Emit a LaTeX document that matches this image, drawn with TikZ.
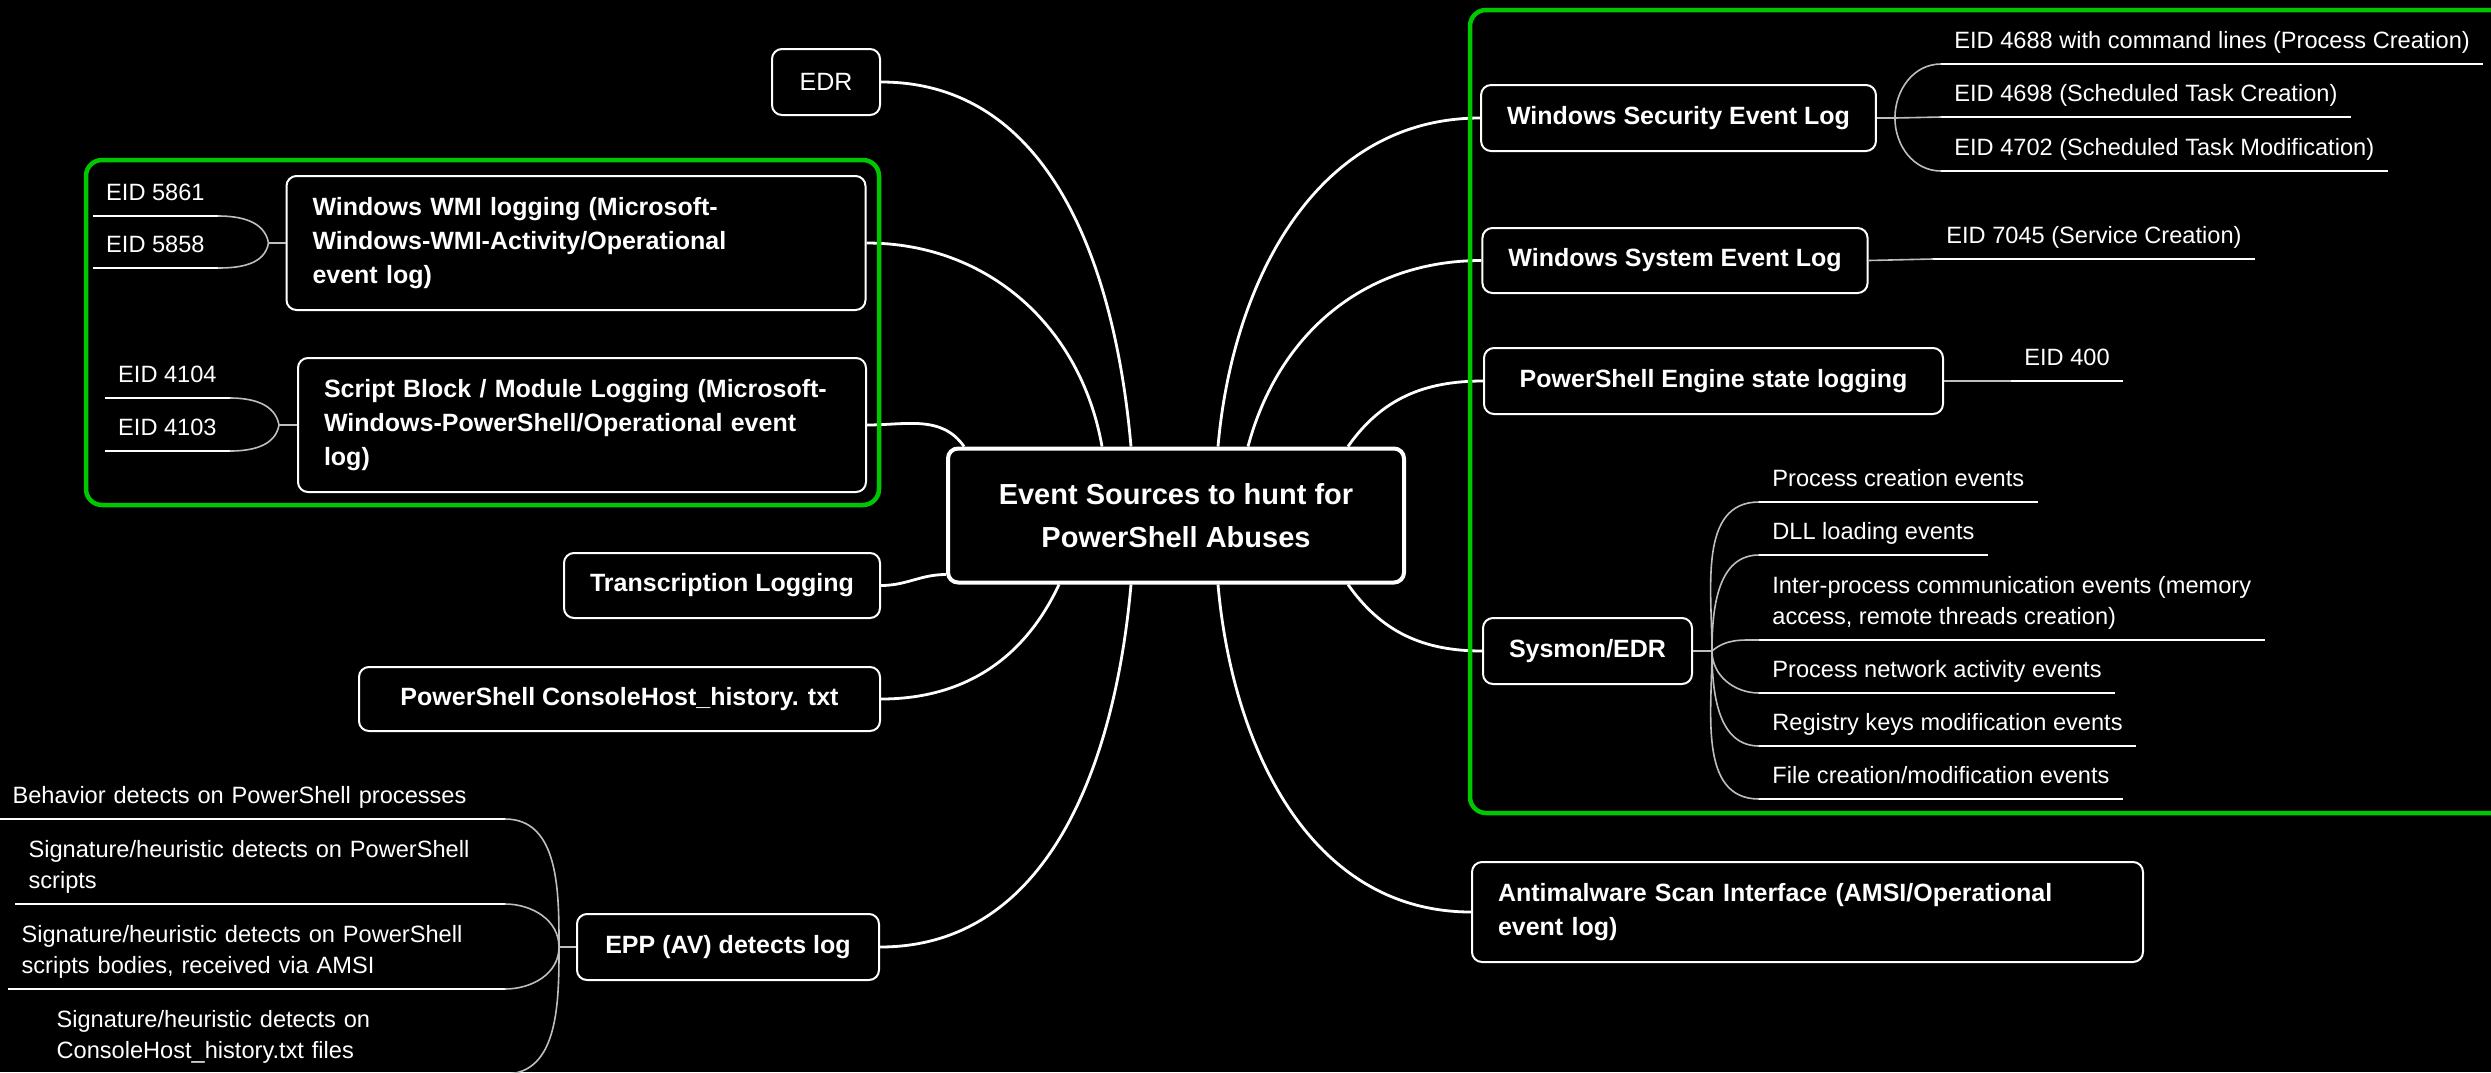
\documentclass[tikz,border=0pt]{standalone}
\usepackage{fontspec}
\setmainfont{Liberation Sans}
\usetikzlibrary{calc}
\definecolor{zonegreen}{RGB}{0,200,0}
\definecolor{stubgrey}{RGB}{190,190,190}

\tikzset{
    hub/.style={draw=white, line width=2pt, rounded corners=5pt, fill=black, text=white,
        font=\bfseries\fontsize{14.5}{21.5}\selectfont, align=center,
        minimum width=228pt, minimum height=67pt},
    src/.style={draw=white, line width=1pt, rounded corners=5pt, fill=black, text=white,
        font=\bfseries\fontsize{12.5}{17}\selectfont, inner xsep=13pt, align=left},
    leaf/.style={text=white, font=\fontsize{11.8}{15.8}\selectfont, inner xsep=6.5pt,
        inner ysep=5pt, align=left, execute at end node={\vphantom{g}}},
    spoke/.style={white, line width=1.4pt},
    twig/.style={stubgrey, line width=0.8pt},
    uline/.style={white, line width=1pt},
    zone/.style={zonegreen, line width=2.25pt, rounded corners=8pt}
}

\begin{document}
\begin{tikzpicture}[x=0.5pt, y=0.5pt]
    \useasboundingbox (0,0) rectangle (2491,-1072);
    \fill[black] (0,0) rectangle (2491,-1072);

    \node[hub] (hub) at (1176,-515.5) {Event Sources to hunt for\\PowerShell Abuses};

    % left side
    \node[src, font=\fontsize{12.5}{17}\selectfont, minimum width=54pt, minimum height=33pt] (edr) at (826,-82) {EDR};
    \node[src, text width=263.5pt, minimum height=67pt] (wmi) at (576,-243) {Windows WMI logging (Microsoft-\\Windows-WMI-Activity/Operational\\event log)};
    \node[src, text width=258pt, minimum height=67pt] (sbl) at (582,-425) {Script Block / Module Logging (Microsoft-\\Windows-PowerShell/Operational event\\log)};
    \node[src, minimum width=158pt, minimum height=32.5pt] (trans) at (722,-585.5) {Transcription Logging};
    \node[src, minimum width=260.5pt, minimum height=32pt] (hist) at (619.5,-699) {PowerShell ConsoleHost\_history. txt};
    \node[src, minimum width=151pt, minimum height=33pt] (epp) at (728,-947) {EPP (AV) detects log};

    % right side
    \node[src, minimum width=193.5pt, minimum height=33pt] (winsec) at (1678.5,-118) {Windows Security Event Log};
    \node[src, minimum width=190pt, minimum height=32.5pt] (winsys) at (1675,-260.5) {Windows System Event Log};
    \node[src, minimum width=229.5pt, minimum height=33pt] (pseng) at (1713.5,-381) {PowerShell Engine state logging};
    \node[src, minimum width=102.5pt, minimum height=33pt] (sysmon) at (1587.5,-651) {Sysmon/EDR};
    \node[src, text width=309.5pt, minimum height=50pt] (amsi) at (1807.5,-912) {Antimalware Scan Interface (AMSI/Operational\\event log)};

    % leaves
    \node[leaf, anchor=south east] (l5861) at (218,-216) {EID 5861};
    \node[leaf, anchor=south east] (l5858) at (218,-268) {EID 5858};
    \node[leaf, anchor=south east] (l4104) at (230,-398) {EID 4104};
    \node[leaf, anchor=south east] (l4103) at (230,-451) {EID 4103};

    \node[leaf, anchor=south east, text width=239.5pt] (lbeh) at (505,-819) {Behavior detects on PowerShell processes};
    \node[leaf, anchor=south east, text width=231.5pt] (lsiga) at (505,-904) {Signature/heuristic detects on PowerShell\\scripts};
    \node[leaf, anchor=south east, text width=235pt] (lsigb) at (505,-989) {Signature/heuristic detects on PowerShell\\scripts bodies, received via AMSI};
    \node[leaf, anchor=south east, text width=217.5pt] (lsigc) at (505,-1074) {Signature/heuristic detects on\\ConsoleHost\_history.txt files};

    \node[leaf, anchor=south west] (l4688) at (1941,-64) {EID 4688 with command lines (Process Creation)};
    \node[leaf, anchor=south west] (l4698) at (1941,-117) {EID 4698 (Scheduled Task Creation)};
    \node[leaf, anchor=south west] (l4702) at (1941,-171) {EID 4702 (Scheduled Task Modification)};
    \node[leaf, anchor=south west] (l7045) at (1933,-259) {EID 7045 (Service Creation)};
    \node[leaf, anchor=south west] (l400) at (2011,-381) {EID 400};

    \node[leaf, anchor=south west] (lproc) at (1759,-502) {Process creation events};
    \node[leaf, anchor=south west] (ldll) at (1759,-555) {DLL loading events};
    \node[leaf, anchor=south west] (lipc) at (1759,-640) {Inter-process communication events (memory\\access, remote threads creation)};
    \node[leaf, anchor=south west] (lnet) at (1759,-693) {Process network activity events};
    \node[leaf, anchor=south west] (lreg) at (1759,-746) {Registry keys modification events};
    \node[leaf, anchor=south west] (lfile) at (1759,-799) {File creation/modification events};

    \foreach \l in {l5861,l5858,l4104,l4103,lbeh,lsiga,lsigb,lsigc,l4688,l4698,l4702,l7045,l400,lproc,ldll,lipc,lnet,lreg,lfile}
        \draw[uline] (\l.south west) -- (\l.south east);

    % spokes from the hub
    \draw[spoke] ($(hub.north west)+(185,0)$) to[out=95,in=0] (edr.east);
    \draw[spoke] ($(hub.north west)+(156,0)$) to[out=100,in=0] (wmi.east);
    \draw[spoke] ($(hub.north west)+(18,0)$) to[out=125,in=0] (sbl.east);
    \draw[spoke] ($(hub.south west)+(0,10)$) to[out=180,in=0] (trans.east);
    \draw[spoke] ($(hub.south west)+(113,0)$) to[out=-115,in=0] (hist.east);
    \draw[spoke] ($(hub.south west)+(185,0)$) to[out=-95,in=0] (epp.east);
    \draw[spoke] ($(hub.north west)+(272,0)$) to[out=85,in=180] (winsec.west);
    \draw[spoke] ($(hub.north west)+(302,0)$) to[out=75,in=180] (winsys.west);
    \draw[spoke] ($(hub.north west)+(402,0)$) to[out=55,in=180] (pseng.west);
    \draw[spoke] ($(hub.south west)+(402,0)$) to[out=-55,in=180] (sysmon.west);
    \draw[spoke] ($(hub.south west)+(272,0)$) to[out=-85,in=180] (amsi.west);

    % forks
    \coordinate (wmifork) at ($(wmi.west)+(-17,0)$);
    \coordinate (sblfork) at ($(sbl.west)+(-18,0)$);
    \coordinate (eppfork) at ($(epp.west)+(-17,0)$);
    \coordinate (secfork) at ($(winsec.east)+(18,0)$);
    \coordinate (sysfork) at ($(sysmon.east)+(19,0)$);

    \draw[twig] (wmi.west) -- (wmifork);
    \draw[twig] (wmifork) to[out=100,in=0] (l5861.south east);
    \draw[twig] (wmifork) to[out=-100,in=0] (l5858.south east);
    \draw[twig] (sbl.west) -- (sblfork);
    \draw[twig] (sblfork) to[out=100,in=0] (l4104.south east);
    \draw[twig] (sblfork) to[out=-100,in=0] (l4103.south east);

    \draw[twig] (epp.west) -- (eppfork);
    \draw[twig] (eppfork) to[out=90,in=0] (lbeh.south east);
    \draw[twig] (eppfork) to[out=90,in=0] (lsiga.south east);
    \draw[twig] (eppfork) to[out=-90,in=0] (lsigb.south east);
    \draw[twig] (eppfork) to[out=-90,in=0] (lsigc.south east);

    \draw[twig] (winsec.east) -- (secfork);
    \draw[twig] (secfork) to[out=90,in=180] (l4688.south west);
    \draw[twig] (secfork) -- (l4698.south west);
    \draw[twig] (secfork) to[out=-90,in=180] (l4702.south west);
    \draw[twig] (winsys.east) -- (l7045.south west);
    \draw[twig] (pseng.east) -- (l400.south west);

    \draw[twig] (sysmon.east) -- (sysfork);
    \draw[twig] (sysfork) to[out=90,in=180] (lproc.south west);
    \draw[twig] (sysfork) to[out=90,in=180] (ldll.south west);
    \draw[twig] (sysfork) to[out=40,in=180] (lipc.south west);
    \draw[twig] (sysfork) to[out=-90,in=180] (lnet.south west);
    \draw[twig] (sysfork) to[out=-90,in=180] (lreg.south west);
    \draw[twig] (sysfork) to[out=-90,in=180] (lfile.south west);

    % highlighted groups
    \draw[zone] (86,-160) rectangle (879,-505);
    \draw[zone] (1470,-10) rectangle (2530,-813);
\end{tikzpicture}
\end{document}
